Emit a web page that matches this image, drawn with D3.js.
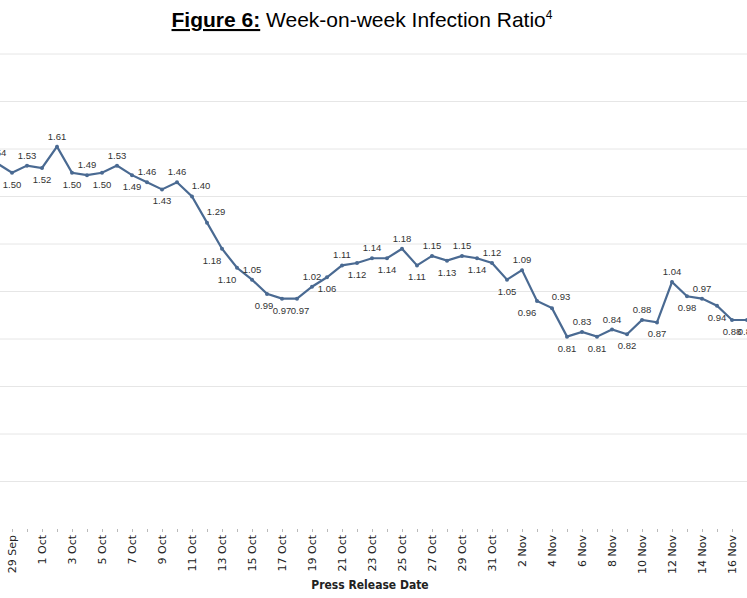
<!DOCTYPE html>
<html><head><meta charset="utf-8">
<script src="https://cdn.jsdelivr.net/npm/d3@7"></script>
<style>
body{margin:0;background:#fff;}
svg{font-family:"Liberation Sans",Arial,sans-serif;}
</style></head><body>
<script>
// dates are days counted from 28 Sep
var dayLabels = ["28 Sep","29 Sep","30 Sep","1 Oct","2 Oct","3 Oct","4 Oct","5 Oct","6 Oct","7 Oct","8 Oct","9 Oct","10 Oct","11 Oct","12 Oct","13 Oct","14 Oct","15 Oct","16 Oct","17 Oct","18 Oct","19 Oct","20 Oct","21 Oct","22 Oct","23 Oct","24 Oct","25 Oct","26 Oct","27 Oct","28 Oct","29 Oct","30 Oct","31 Oct","1 Nov","2 Nov","3 Nov","4 Nov","5 Nov","6 Nov","7 Nov","8 Nov","9 Nov","10 Nov","11 Nov","12 Nov","13 Nov","14 Nov","15 Nov","16 Nov","17 Nov"];
var ratio = [1.54,1.50,1.53,1.52,1.61,1.50,1.49,1.50,1.53,1.49,1.46,1.43,1.46,1.40,1.29,1.18,1.10,1.05,0.99,0.97,0.97,1.02,1.06,1.11,1.12,1.14,1.14,1.18,1.11,1.15,1.13,1.15,1.14,1.12,1.05,1.09,0.96,0.93,0.81,0.83,0.81,0.84,0.82,0.88,0.87,1.04,0.98,0.97,0.94,0.88,0.88];
var labelPos = ["a","b","a","b","a","b","a","b","a","b","a","b","a","ar","ar","bl","bl","a","b","b","b","a","b","a","b","a","b","a","b","a","b","a","b","a","b","a","bl","ar","b","a","b","a","b","a","b","a","b","a","b","b","b"];
var tickLabels = dayLabels.filter(function(d, i){ return i % 2 == 1; });

var width = 747, height = 598;
var svg = d3.select("body").append("svg").attr("width", width).attr("height", height);

var x = d3.scalePoint().domain(dayLabels).range([-3, 747]);
var y = d3.scaleLinear().domain([0, 2]).range([529, 54]);

// gridlines
svg.append("g").selectAll("line")
  .data(d3.range(0.2, 2.01, 0.2))
  .enter().append("line")
    .attr("x1", 0).attr("x2", width)
    .attr("y1", function(d){ return y(d); })
    .attr("y2", function(d){ return y(d); })
    .attr("stroke", "#e6e6e6").attr("stroke-width", 1);

// x axis
var xAxis = d3.axisBottom(x).tickSize(3).tickFormat(function(d){ return tickLabels.indexOf(d) >= 0 ? d : ""; });
var gx = svg.append("g").attr("transform", "translate(0,529)").call(xAxis);
gx.select(".domain").remove();
gx.selectAll(".tick line").attr("stroke", "#bbb");
gx.selectAll(".tick text")
  .attr("transform", "rotate(-90)")
  .attr("x", -6).attr("y", 0).attr("dy", "0.35em")
  .style("text-anchor", "end")
  .style("font-family", "'DejaVu Sans',sans-serif")
  .style("font-size", "11px").attr("fill", "#222");

svg.append("text").text("Press Release Date")
  .attr("x", 370).attr("y", 589).attr("text-anchor", "middle")
  .style("font-weight", "bold").style("font-size", "12px")
  .style("font-family", "'Liberation Sans Narrow','DejaVu Sans Condensed',sans-serif")
  .attr("fill", "#222");

// line
var line = d3.line().x(function(d, i){ return x(dayLabels[i]); }).y(function(d){ return y(d); });
svg.append("path").datum(ratio).attr("d", line)
  .attr("fill", "none").attr("stroke", "#4a6a92").attr("stroke-width", 2.2);
svg.append("g").selectAll("circle").data(ratio).enter().append("circle")
  .attr("cx", function(d, i){ return x(dayLabels[i]); })
  .attr("cy", function(d){ return y(d); })
  .attr("r", 2).attr("fill", "#4a6a92");

// value labels
svg.append("g").selectAll("text").data(ratio).enter().append("text")
  .text(function(d){ return d.toFixed(2); })
  .attr("x", function(d, i){
    var p = labelPos[i], px = x(dayLabels[i]);
    if (p == "ar") return px + 9;
    if (p == "bl") return px - 10;
    if (i == 18) return px - 3;
    if (i == 20) return px + 3;
    return px;
  })
  .attr("y", function(d, i){
    var p = labelPos[i], py = y(d);
    if (p == "a") return py - 7;
    if (p == "ar") return py - 8;
    return py + 15;
  })
  .attr("text-anchor", "middle")
  .style("font-size", "9.5px").attr("fill", "#333");

// title
var title = svg.append("text").attr("x", 362).attr("y", 27).attr("text-anchor", "middle")
  .style("font-size", "21px").attr("fill", "#000");
title.append("tspan").text("Figure 6:").style("font-weight", "bold").style("text-decoration", "underline");
title.append("tspan").text(" Week-on-week Infection Ratio");
title.append("tspan").text("4").attr("dy", -8).style("font-size", "12px");
</script>
</body></html>
